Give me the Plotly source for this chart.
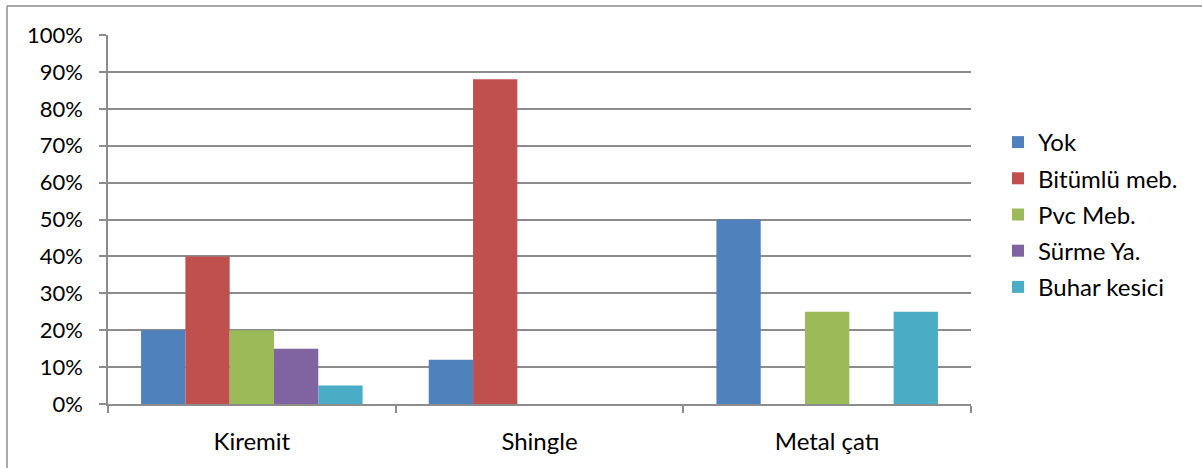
import plotly.graph_objects as go

categories = ["Kiremit", "Shingle", "Metal çatı"]
series_names = ["Yok", "Bitümlü meb.", "Pvc Meb.", "Sürme Ya.", "Buhar kesici"]
yok = [0.20, 0.12, 0.50]
bitumlu = [0.40, 0.88, 0.0]
pvc = [0.20, 0.0, 0.25]
surme = [0.15, 0.0, 0.0]
buhar = [0.05, 0.0, 0.25]
colors = ["#4F81BD", "#C0504D", "#9BBB59", "#8064A2", "#4BACC6"]
y_ticks = [i / 10 for i in range(11)]
y_labels = [f"{i*10}%" for i in range(11)]

W, H = 1202, 468
L, R, T, B = 108, 231, 35, 64
pw, ph = W - L - R, H - T - B

FONT = "Lato"
GRID = "#8c8c8c"

fig = go.Figure()
for i, (name, vals) in enumerate(zip(series_names, [yok, bitumlu, pvc, surme, buhar])):
    fig.add_trace(go.Bar(x=categories, y=vals, name=name, marker_color=colors[i],
                         marker_line_width=0, legendgroup=f"g{i}"))

fig.update_layout(
    width=W, height=H,
    margin=dict(l=L, r=R, t=T, b=B, pad=0),
    paper_bgcolor="white", plot_bgcolor="white",
    barmode="group", bargap=0.23, bargroupgap=0,
    font=dict(family=FONT, size=24, color="#000000"),
    legend=dict(x=1.0 + (998 - 971) / pw, xanchor="left", y=(404 - 214.5) / ph, yanchor="middle",
                font=dict(size=24, family=FONT), traceorder="grouped", tracegroupgap=2,
                itemwidth=30, bgcolor="rgba(0,0,0,0)"),
    showlegend=True,
)
fig.update_xaxes(type="category", tickson="boundaries", ticks="outside", ticklen=7,
                 tickcolor=GRID, tickwidth=1.5, showline=True, linecolor=GRID, linewidth=1.5,
                 showgrid=False, ticklabelstandoff=15, tickfont=dict(size=24, family=FONT))
fig.update_yaxes(range=[0, 1.0], tickvals=y_ticks, ticktext=y_labels, ticks="outside",
                 ticklen=7, tickcolor=GRID, tickwidth=1.5, showline=True, linecolor=GRID,
                 linewidth=1.5, showgrid=True, gridcolor=GRID, gridwidth=1.5, zeroline=False,
                 ticklabelstandoff=12, tickfont=dict(size=22, family=FONT))

# outer chart border (left and top edges visible)
bx = (7 - L) / pw
by = 1 + (T - 6) / ph
byb = -(B) / ph
fig.add_shape(type="line", xref="paper", yref="paper", x0=bx, x1=bx, y0=byb - 0.1, y1=by,
              line=dict(color="#8c8c8c", width=1.5))
fig.add_shape(type="line", xref="paper", yref="paper", x0=bx, x1=1 + (R + 10) / pw, y0=by, y1=by,
              line=dict(color="#8c8c8c", width=1.5))

fig.write_html("out.html", config={"displayModeBar": False},
               post_script="document.body.style.margin='0';document.body.style.overflow='hidden';")
